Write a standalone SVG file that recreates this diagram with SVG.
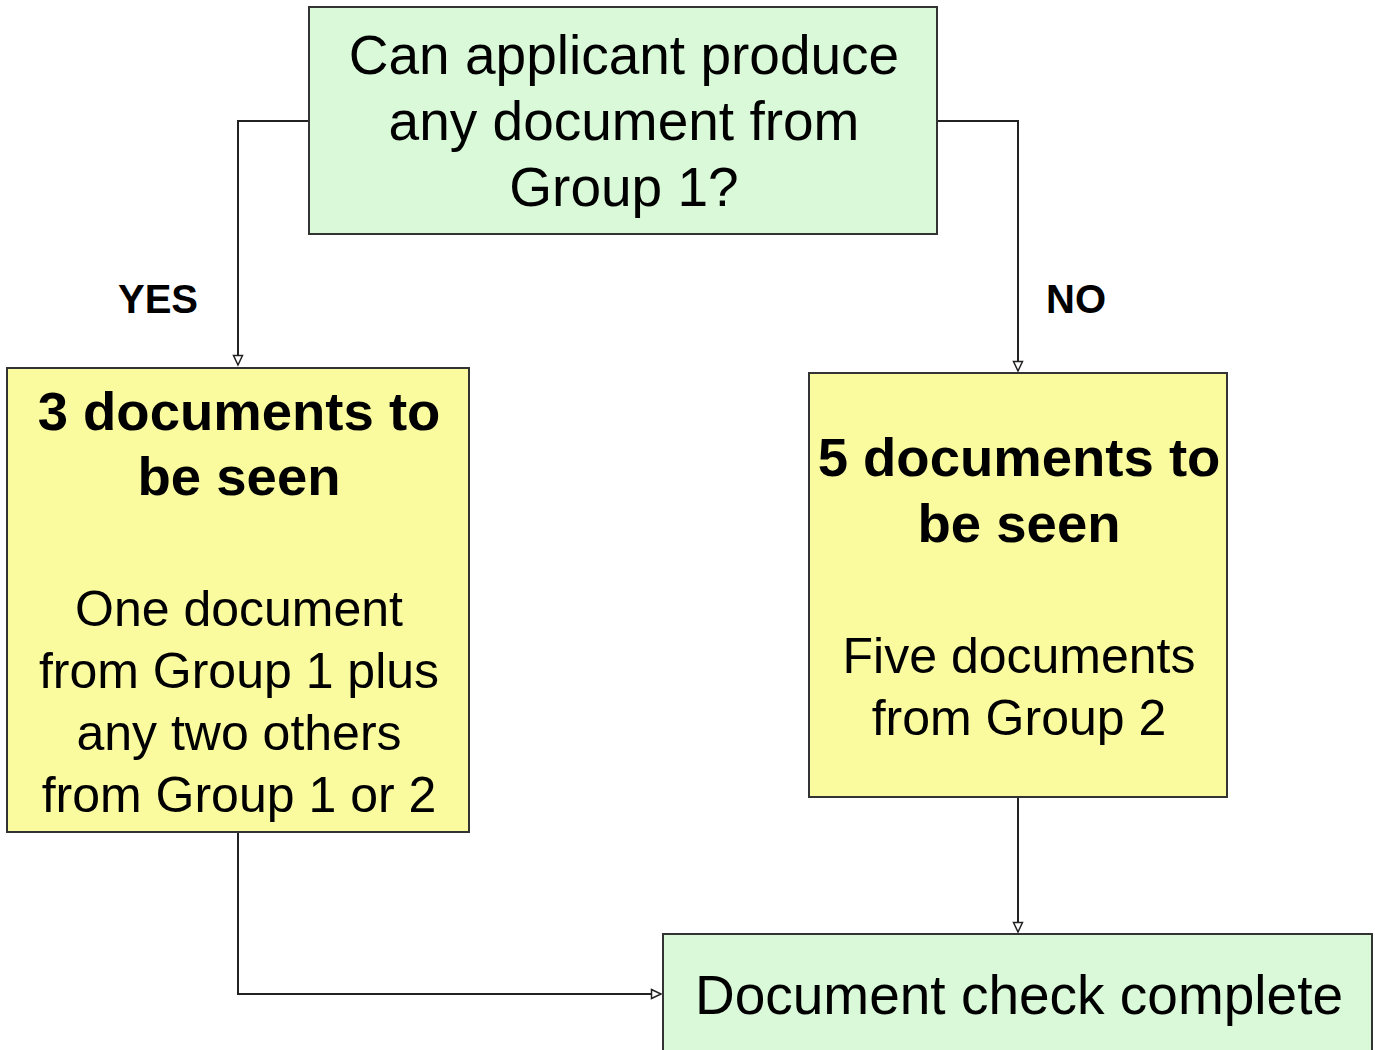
<svg xmlns="http://www.w3.org/2000/svg" width="1375" height="1050" viewBox="0 0 1375 1050">
<style>
.g{fill:#d9f9d9;stroke:#333;stroke-width:2}
.y{fill:#fafa9e;stroke:#333;stroke-width:2}
.t{font-family:"Liberation Sans",Arial,sans-serif;font-size:55px;fill:#000;text-anchor:middle}
.b{font-family:"Liberation Sans",Arial,sans-serif;font-size:54.5px;font-weight:bold;fill:#000;text-anchor:middle}
.s{font-family:"Liberation Sans",Arial,sans-serif;font-size:50px;fill:#000;text-anchor:middle}
.l{font-family:"Liberation Sans",Arial,sans-serif;font-size:40px;font-weight:bold;fill:#000;text-anchor:middle}
.c{fill:none;stroke:#222;stroke-width:2;marker-end:url(#a)}
</style>
<defs>
<marker id="a" markerWidth="14" markerHeight="14" refX="11" refY="6" orient="auto" markerUnits="userSpaceOnUse">
<path d="M1.5,1.5 L11,6 L1.5,10.5 Z" fill="#fff" stroke="#222" stroke-width="1.5"/>
</marker>
</defs>
<rect width="1375" height="1050" fill="#fff"/>
<g id="connectors">
<path class="c" d="M309,121 H238 V365"/>
<path class="c" d="M937,121 H1018 V371"/>
<path class="c" d="M1018,797 V932"/>
<path class="c" d="M238,832 V994 H661"/>
</g>
<g id="labels">
<text class="l" x="158" y="313">YES</text>
<text class="l" x="1076" y="313">NO</text>
</g>
<g id="q">
<rect class="g" x="309" y="7" width="628" height="227"/>
<text class="t" x="624" y="74">Can applicant produce</text>
<text class="t" x="624" y="140">any document from</text>
<text class="t" x="624" y="206">Group 1?</text>
</g>
<g id="yes">
<rect class="y" x="7" y="368" width="462" height="464"/>
<text class="b" x="239" y="430">3 documents to</text>
<text class="b" x="239" y="495">be seen</text>
<text class="s" x="239" y="626">One document</text>
<text class="s" x="239" y="688">from Group 1 plus</text>
<text class="s" x="239" y="750">any two others</text>
<text class="s" x="239" y="812">from Group 1 or 2</text>
</g>
<g id="no">
<rect class="y" x="809" y="373" width="418" height="424"/>
<text class="b" x="1019" y="476">5 documents to</text>
<text class="b" x="1019" y="542">be seen</text>
<text class="s" x="1019" y="673">Five documents</text>
<text class="s" x="1019" y="735">from Group 2</text>
</g>
<g id="done">
<rect class="g" x="663" y="934" width="709" height="130"/>
<text class="t" x="1019" y="1014">Document check complete</text>
</g>
</svg>
